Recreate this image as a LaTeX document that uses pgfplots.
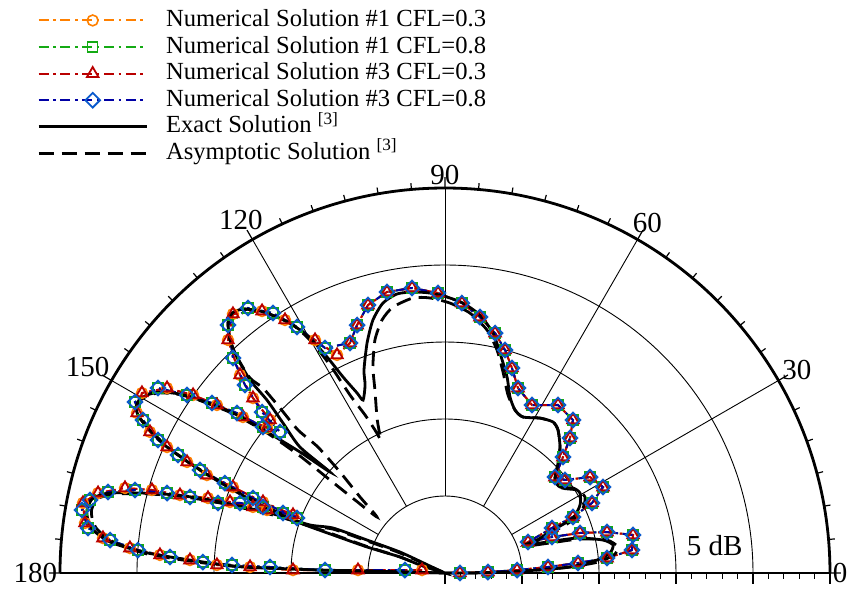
\documentclass[border=0pt]{standalone}
\usepackage{fontspec}
\setmainfont{Liberation Serif}
\usepackage{pgfplots}
\usepackage{pgfplotstable}
\usepgfplotslibrary{polar}
\pgfplotsset{compat=1.18}
\definecolor{corange}{RGB}{255,128,0}
\definecolor{cgreen}{RGB}{20,170,20}
\definecolor{cred}{RGB}{185,0,0}
\definecolor{cblue}{RGB}{0,0,165}
\definecolor{cbluem}{RGB}{10,90,205}

\pgfplotstableread{
x y
-1.49 0.19
-5.65 0.19
-9.87 0.19
-12.66 0.39
-14.81 0.52
-16.56 0.84
-18.51 1.17
-20.46 1.62
-22.21 2.27
-23.38 3.25
-23.51 4.55
-22.53 5.19
-20.78 5.52
-19.03 5.39
-17.21 5.06
-15.39 4.87
-13.96 4.61
-12.47 4.29
-11.56 4.09
-9.87 3.77
-11.82 4.61
-13.77 5.58
-15.46 6.36
-16.75 7.21
-18.05 8.18
-19.16 9.16
-20.00 10.39
-19.68 11.69
-18.05 12.01
-16.36 11.56
-14.81 10.91
-13.12 10.13
-11.56 9.42
-11.36 9.94
-12.47 11.36
-13.31 12.86
-14.09 15.13
-13.77 16.82
-11.88 17.01
-10.39 16.43
-8.44 15.13
-7.01 14.16
-6.17 14.94
-5.71 16.10
-5.00 17.40
-3.77 18.25
-2.14 18.51
-0.45 18.18
1.10 17.53
2.27 16.62
3.25 15.58
3.90 14.48
4.35 13.31
4.74 12.01
5.65 10.91
7.34 10.91
8.31 9.94
8.12 8.77
7.66 7.53
7.14 6.23
7.79 6.04
9.42 6.23
10.26 5.58
9.55 4.55
8.31 3.64
6.95 2.92
5.39 2.01
6.95 2.34
8.77 2.60
10.52 2.66
12.21 2.47
12.14 1.49
10.52 0.97
8.64 0.65
6.69 0.39
4.68 0.19
2.79 0.06
0.97 0.00
}\numA

\pgfplotstableread{
x y
-2.60 0.19
-7.79 0.19
-11.36 0.39
-13.83 0.52
-15.72 0.71
-17.86 1.04
-19.94 1.49
-21.75 2.14
-23.18 2.92
-23.57 4.09
-23.05 4.74
-21.88 5.26
-20.13 5.39
-18.05 5.19
-16.56 4.94
-14.74 4.55
-13.31 4.55
-11.82 4.29
-10.52 3.90
-9.61 3.57
-12.47 4.87
-14.29 5.84
-15.91 6.69
-17.34 7.66
-18.64 8.64
-19.61 9.94
-20.13 11.10
-18.64 12.01
-16.75 11.56
-15.13 11.04
-13.51 10.39
-11.82 9.48
-10.71 9.16
-11.88 10.45
-12.99 12.21
-13.77 13.96
-14.09 16.10
-12.79 17.21
-11.17 16.88
-9.61 15.98
-7.79 14.61
-6.17 14.94
-5.71 16.10
-5.00 17.40
-3.77 18.25
-2.14 18.51
-0.45 18.18
1.10 17.53
2.27 16.62
3.25 15.58
3.90 14.48
4.35 13.31
4.74 12.01
5.65 10.91
7.34 10.91
8.31 9.94
8.12 8.77
7.66 7.53
7.14 6.23
7.79 6.04
9.42 6.23
10.26 5.58
9.55 4.55
8.31 3.64
6.95 2.92
5.39 2.01
6.95 2.34
8.77 2.60
10.52 2.66
12.21 2.47
12.14 1.49
10.52 0.97
8.64 0.65
6.69 0.39
4.68 0.19
2.79 0.06
0.97 0.00
}\numB

\pgfplotstableread{
x y
0 0
-5.06 0.13
-8.12 0.19
-9.87 0.26
-13.12 0.39
-15.26 0.65
-17.40 0.97
-19.61 1.36
-21.75 2.01
-22.86 2.79
-23.18 3.44
-23.25 4.09
-22.86 4.87
-21.75 5.19
-19.61 5.19
-17.40 5.06
-15.26 4.74
-13.12 4.29
-10.91 3.77
-8.77 3.12
-7.27 2.92
-5.06 2.14
-2.92 1.36
-0.97 0.45
-0.10 0.03
-1.62 0.52
-2.92 1.04
-5.06 1.69
-7.27 2.47
-9.42 3.25
-11.56 4.22
-13.77 5.39
-15.91 6.69
-18.05 8.18
-19.35 9.48
-19.87 10.13
-20.07 10.71
-19.87 11.23
-19.35 11.56
-18.51 11.75
-17.21 11.62
-15.91 11.23
-13.77 10.39
-11.56 9.16
-9.42 7.86
-7.47 6.56
-9.42 8.18
-10.52 9.74
-11.56 11.23
-12.66 12.53
-13.51 14.03
-13.96 15.13
-14.09 16.23
-13.83 16.88
-13.12 17.14
-12.01 17.01
-10.91 16.62
-9.87 16.10
-8.77 15.26
-7.66 14.03
-6.62 12.73
-5.71 11.69
-5.32 11.23
-5.19 12.21
-5.26 13.18
-5.06 14.94
-4.68 16.43
-4.03 17.53
-3.12 18.12
-2.08 18.25
-0.97 18.18
0.13 17.92
1.17 17.53
2.27 16.75
3.12 15.58
3.57 14.29
4.03 12.73
4.22 11.43
4.55 10.58
5.06 10.13
6.17 10.06
7.01 9.81
7.34 9.29
7.47 8.18
7.34 7.14
7.14 6.04
7.47 5.58
8.31 5.52
8.77 5.19
8.77 4.42
8.31 3.57
7.01 2.79
5.97 2.14
5.19 1.82
6.62 2.01
8.57 2.27
10.26 2.14
10.91 1.82
10.71 1.30
9.87 0.84
8.12 0.39
5.97 0.19
3.77 0.06
1.62 0.00
0 0
}\exact

\pgfplotstableread{
x y
0 0
-5.06 0.13
-8.12 0.19
-9.87 0.26
-13.12 0.39
-15.26 0.60
-17.40 0.90
-19.61 1.30
-21.60 2.05
-22.60 2.85
-22.90 3.50
-22.95 4.10
-22.60 4.80
-21.60 5.12
-19.61 5.15
-17.40 5.00
-15.26 4.68
-13.12 4.22
-10.91 3.70
-8.77 3.05
-7.27 2.85
-5.06 2.08
-2.92 1.30
-0.97 0.42
-0.10 0.03
-1.62 0.52
-2.92 1.04
-5.06 1.72
-7.27 2.52
-9.42 3.30
-11.56 4.28
-13.77 5.45
-15.91 6.72
-18.05 8.20
-19.30 9.50
-19.90 10.15
-20.00 10.70
-19.80 11.20
-19.30 11.52
-18.51 11.70
-17.21 11.58
-15.91 11.20
-13.77 10.35
-11.56 9.10
-9.42 7.60
-7.47 6.04
-5.84 4.74
-4.42 3.64
-5.52 4.94
-6.82 6.56
-8.25 8.18
-9.55 9.29
-10.71 10.71
-11.82 12.01
-12.66 12.66
-13.51 14.03
-13.96 15.13
-14.09 16.23
-13.83 16.88
-13.12 17.14
-12.01 17.01
-10.91 16.62
-9.87 16.10
-8.77 15.13
-7.47 13.51
-6.17 11.56
-5.19 10.26
-4.55 9.29
-4.16 8.64
-4.29 9.29
-4.42 10.13
-4.55 11.88
-4.68 13.38
-4.55 15.13
-4.09 16.43
-3.38 17.27
-2.08 17.86
-0.97 17.86
0.32 17.53
1.62 16.88
2.73 15.78
3.38 14.48
3.77 13.05
4.09 11.56
4.55 10.58
5.06 10.13
6.17 10.06
7.01 9.81
7.34 9.29
7.47 8.18
7.34 7.14
7.14 6.04
7.60 5.52
8.57 5.39
9.09 4.94
8.96 4.22
8.31 3.44
7.01 2.66
5.97 2.08
5.26 1.75
6.82 1.95
8.77 2.21
10.52 2.14
11.23 1.69
10.97 1.17
9.94 0.71
8.12 0.39
5.97 0.19
3.77 0.06
1.62 0.00
0 0
}\asym

\begin{document}
\begin{tikzpicture}
\useasboundingbox (-222.5pt,-8.5pt) rectangle (202.5pt,286.5pt);
\begin{polaraxis}[
  at={(0pt,0pt)}, anchor=origin,
  scale only axis, width=385pt, height=385pt,
  xmin=0, xmax=180, ymin=0, ymax=25,
  xtick={0,30,60,90,120,150,180},
  xticklabels={0,30,60,90,120,150,180},
  minor x tick num=5,
  ytick={0,5,10,15,20,25}, yticklabels={},
  minor y tick num=4,
  ytick pos=left,
  ymajorgrids, xmajorgrids=false,
  grid style={black, line width=0.45pt},
  axis line style={line width=1.4pt},
  tick style={black, line width=0.6pt},
  major tick length=5.5pt, minor tick length=3.2pt,
  tick align=inside,
  ticklabel style={font=\fontsize{14.5}{16}\selectfont},
  xticklabel style={inner sep=1.2pt},
  clip=false,
  legend cell align=left,
  legend style={at={(-0.03,1.4675)}, anchor=north west, draw=none, fill=none,
    inner sep=0pt, row sep=1.3pt,
    font=\fontsize{12.3}{13}\selectfont,
    nodes={inner sep=0pt, text height=9pt, text depth=3pt}},
  legend image code/.code={\draw[mark repeat=2,mark phase=2,#1] plot coordinates {(0pt,0pt) (27pt,0pt) (54pt,0pt)}; \path (63pt,0pt);},
  numstyle/.style={line width=1pt, dash pattern=on 5pt off 2.3pt on 1.3pt off 2.3pt},
]
\foreach \a in {30,60,90,120,150}{
  \edef\tmp{\noexpand\draw[line width=0.45pt] (axis cs:\a,5) -- (axis cs:\a,25);}\tmp
}
\addplot[corange, numstyle, mark=o, mark size=2.7pt, mark options={solid, line width=0.8pt}, data cs=cart] table {\numA};
\addlegendentry{Numerical Solution \#1 CFL=0.3}
\addplot[cgreen, numstyle, mark=square, mark size=2.5pt, mark options={solid, line width=0.8pt}, data cs=cart] table {\numB};
\addlegendentry{Numerical Solution \#1 CFL=0.8}
\addplot[cred, numstyle, mark=triangle, mark size=3.3pt, mark options={solid, line width=0.9pt}, data cs=cart] table {\numA};
\addlegendentry{Numerical Solution \#3 CFL=0.3}
\addplot[cblue, numstyle, mark=square, mark size=2.6pt, mark options={solid, rotate=45, draw=cbluem, line width=0.9pt}, data cs=cart] table {\numB};
\addlegendentry{Numerical Solution \#3 CFL=0.8}
\addplot[black, line width=1.4pt, smooth, tension=0.4, data cs=cart] table {\exact};
\addlegendentry{Exact Solution \textsuperscript{[3]}}
\addplot[black, line width=1.4pt, dash pattern=on 7.5pt off 4pt, smooth, tension=0.4, data cs=cart] table {\asym};
\addlegendentry{Asymptotic Solution \textsuperscript{[3]}}
\node[font=\fontsize{14.5}{16}\selectfont] at (axis cs:5.9,17.6) {5 dB};
\end{polaraxis}
\end{tikzpicture}
\end{document}
